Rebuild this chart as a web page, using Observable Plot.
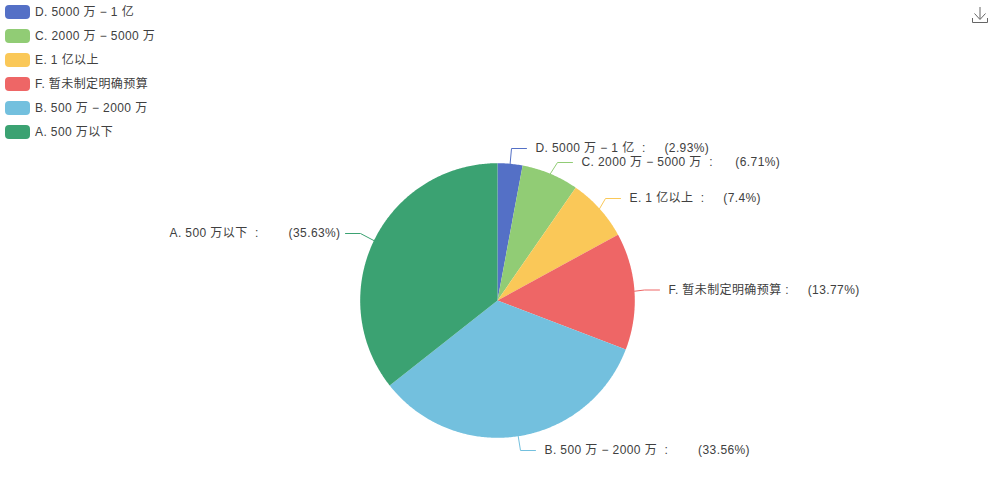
<!DOCTYPE html>
<html>
<head>
<meta charset="utf-8">
<script src="https://cdn.jsdelivr.net/npm/d3@7"></script>
<script src="https://cdn.jsdelivr.net/npm/@observablehq/plot@0.6"></script>
<style>
html,body{margin:0;padding:0;background:#fff}
#wrap{position:relative;width:994px;height:500px;overflow:hidden;font-family:"Liberation Sans","Noto Sans CJK SC",sans-serif}
#wrap svg.chart{position:absolute;left:0;top:0}
.leg{position:absolute;left:5px;height:14px;display:flex;align-items:center;font-size:12px;color:#404040;white-space:nowrap;letter-spacing:.4px}
.leg i{display:block;width:25px;height:14px;border-radius:4px;margin-right:5px}
.leg span{position:relative;top:-1.5px}
#dl{position:absolute;left:972px;top:7px}
</style>
</head>
<body>
<div id="wrap"></div>
<script>
const categories = ["D. 5000 万 − 1 亿","C. 2000 万 − 5000 万","E. 1 亿以上","F. 暂未制定明确预算","B. 500 万 − 2000 万","A. 500 万以下"];
const shares = [2.93,6.71,7.4,13.77,33.56,35.63];
const colors = ["#5470c6","#91cc75","#fac858","#ee6666","#73c0de","#3ba272"];
// Layout of the leader lines and label spacing
const cx = 497, cy = 300, R = 137.3;
const elbowX = [511,557,605,644,520,360];
const elbowY = [148,162,198,289.5,450,233];
const spacesBeforeColon = [2,2,2,1,2,2];
const spacesAfterColon = [5,6,5,5,8,8];

const nb = n => "\u00a0".repeat(n);
let cum = 0;
const slices = shares.map((v,i)=>{const a0=cum/100*2*Math.PI; cum+=v; const a1=cum/100*2*Math.PI; return {name:categories[i],v,a0,a1,mid:(a0+a1)/2,i};});

const sectorPts = slices.flatMap(s=>{
  const n = Math.max(2,Math.ceil((s.a1-s.a0)/0.01));
  const pts=[{name:s.name,x:cx,y:cy}];
  for(let k=0;k<=n;k++){const a=s.a0+(s.a1-s.a0)*k/n; pts.push({name:s.name,x:cx+R*Math.sin(a),y:cy-R*Math.cos(a)});}
  return pts;
});
const leaderPts = slices.flatMap(s=>{
  const left = Math.sin(s.mid)<0;
  const ex=elbowX[s.i], ey=elbowY[s.i];
  return [
    {name:s.name,x:cx+R*Math.sin(s.mid),y:cy-R*Math.cos(s.mid)},
    {name:s.name,x:ex,y:ey},
    {name:s.name,x:ex+(left?-15:15),y:ey}
  ];
});
const labels = slices.map(s=>{
  const left = Math.sin(s.mid)<0;
  return {x:elbowX[s.i]+(left?-20:24), y:elbowY[s.i], left,
    text:`${s.name}${nb(spacesBeforeColon[s.i])}:${nb(spacesAfterColon[s.i])}(${s.v}%)`};
});

const chart = Plot.plot({
  width:994,height:500,margin:0,
  x:{domain:[0,994],range:[0,994],axis:null},
  y:{domain:[0,500],range:[0,500],axis:null},
  color:{domain:categories,range:colors,type:"ordinal"},
  marks:[
    Plot.line(sectorPts,{x:"x",y:"y",z:"name",fill:"name",stroke:null,curve:"linear"}),
    Plot.line(leaderPts,{x:"x",y:"y",z:"name",stroke:"name",strokeWidth:1,curve:"linear"}),
    Plot.text(labels.filter(d=>!d.left),{x:"x",y:"y",text:"text",textAnchor:"start",fill:"#404040",fontSize:12,lineAnchor:"middle"}),
    Plot.text(labels.filter(d=>d.left),{x:"x",y:"y",text:"text",textAnchor:"end",fill:"#404040",fontSize:12,lineAnchor:"middle"})
  ]
});
chart.classList.add("chart");
chart.style.fontFamily='"Liberation Sans","Noto Sans CJK SC",sans-serif';
chart.style.letterSpacing='.4px';
const wrap=document.getElementById("wrap");
wrap.appendChild(chart);

categories.forEach((c,i)=>{
  const d=document.createElement("div");d.className="leg";d.style.top=(5+24*i)+"px";
  const sw=document.createElement("i");sw.style.background=colors[i];d.appendChild(sw);
  const t=document.createElement("span");t.textContent=c;d.appendChild(t);wrap.appendChild(d);
});
const NS="http://www.w3.org/2000/svg";
const ic=document.createElementNS(NS,"svg");ic.setAttribute("id","dl");ic.setAttribute("width","16");ic.setAttribute("height","17");
ic.innerHTML='<path d="M0.5 11 V15.5 H15.5 V11 M8 0 V12 M2.5 6.5 L8 12.5 L13.5 6.5" fill="none" stroke="#666" stroke-width="1"/>';
wrap.appendChild(ic);
</script>
</body>
</html>
